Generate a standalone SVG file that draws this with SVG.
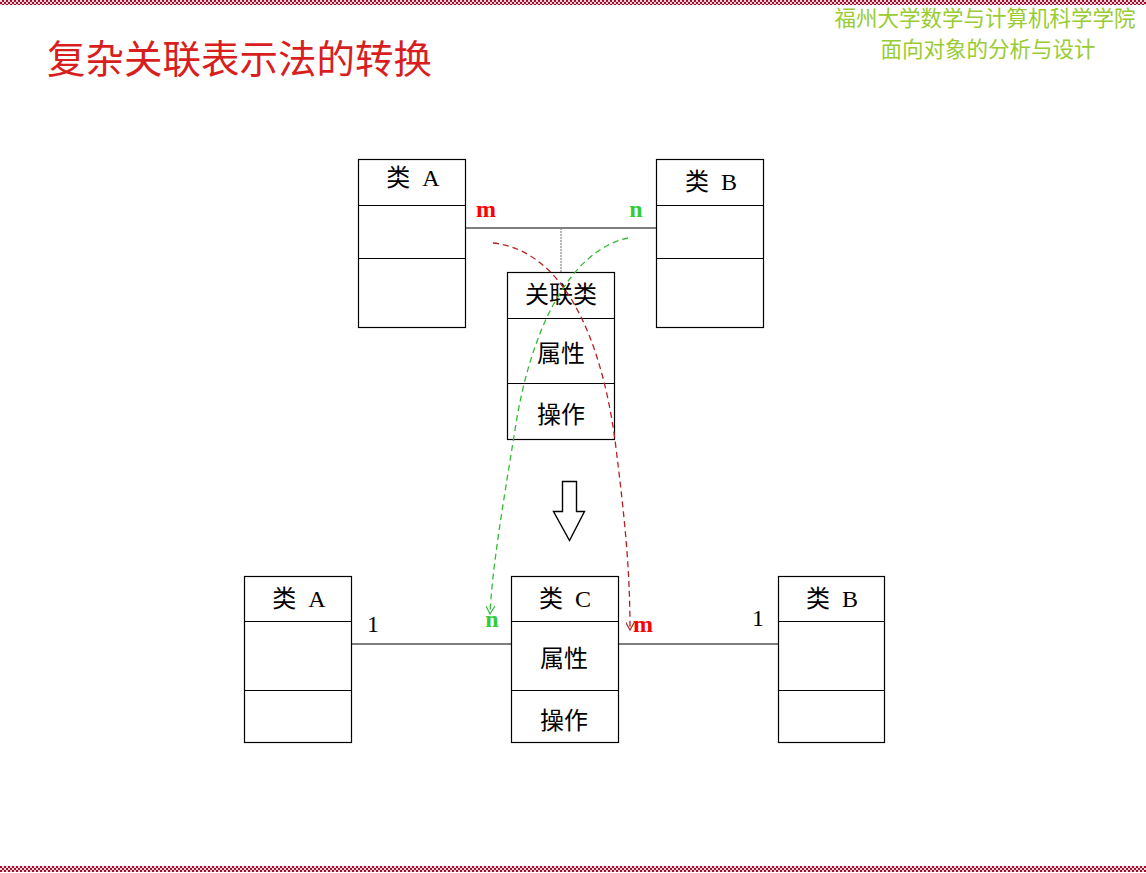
<svg xmlns="http://www.w3.org/2000/svg" width="1146" height="873" viewBox="0 0 1146 873">
<defs>
<pattern id="chk" x="0" y="0" width="4" height="4" patternUnits="userSpaceOnUse">
<rect width="4" height="4" fill="#a0102e"/>
<rect x="0" y="0" width="2" height="2" fill="#f2d6dc"/>
<rect x="2" y="2" width="2" height="2" fill="#f2d6dc"/>
</pattern>
<marker id="arrR" viewBox="0 0 10 10" refX="9" refY="5" markerWidth="9" markerHeight="9" orient="auto" markerUnits="userSpaceOnUse">
<path d="M0,0 L9,5 L0,10" fill="none" stroke="#b22222" stroke-width="1.3"/>
</marker>
<marker id="arrG" viewBox="0 0 10 10" refX="9" refY="5" markerWidth="9" markerHeight="9" orient="auto" markerUnits="userSpaceOnUse">
<path d="M0,0 L9,5 L0,10" fill="none" stroke="#33bb33" stroke-width="1.3"/>
</marker>
</defs>
<style>
.box{fill:#fff;stroke:#000;stroke-width:1.2}
.div{stroke:#000;stroke-width:1}
.cn{font-family:"Liberation Serif","Noto Sans CJK SC",serif;font-size:24px;fill:#000;text-anchor:middle}
.lbl{font-family:"Liberation Serif",serif;font-size:24px;font-weight:bold}
.line{stroke:#000;stroke-width:1.2;fill:none}
.hdr{font-family:"Noto Sans CJK SC",sans-serif;font-size:21.5px;fill:#99cc33;text-anchor:middle}
</style>
<rect width="1146" height="873" fill="#fff"/>
<rect x="0" y="0" width="1146" height="5" fill="url(#chk)"/>
<rect x="0" y="866" width="1146" height="6" fill="url(#chk)"/>

<text x="47" y="73" font-family="Liberation Serif,'Noto Sans CJK SC',serif" font-size="38.5" fill="#d81e1e">复杂关联表示法的转换</text>
<text class="hdr" x="985" y="26">福州大学数学与计算机科学学院</text>
<text class="hdr" x="988" y="57">面向对象的分析与设计</text>

<g id="connectors">
<line class="line" x1="465" y1="228" x2="656" y2="228"/>
<line x1="561" y1="228" x2="561" y2="272" stroke="#888" stroke-width="1.2" stroke-dasharray="2,1"/>
<line class="line" x1="351" y1="644" x2="511" y2="644"/>
<line class="line" x1="618" y1="644" x2="778" y2="644"/>
</g>

<g id="classA1">
<rect class="box" x="358.5" y="159.5" width="107" height="168"/>
<line class="div" x1="358" y1="205.5" x2="465" y2="205.5"/>
<line class="div" x1="358" y1="258.5" x2="465" y2="258.5"/>
<text class="cn" x="413" y="186" xml:space="preserve">类  A</text>
</g>
<g id="classB1">
<rect class="box" x="656.5" y="159.5" width="107" height="168"/>
<line class="div" x1="656" y1="205.5" x2="763" y2="205.5"/>
<line class="div" x1="656" y1="258.5" x2="763" y2="258.5"/>
<text class="cn" x="711" y="190" xml:space="preserve">类  B</text>
</g>
<g id="assocClass">
<rect class="box" x="507.5" y="272.5" width="107" height="167"/>
<line class="div" x1="507" y1="318.5" x2="614" y2="318.5"/>
<line class="div" x1="507" y1="383.5" x2="614" y2="383.5"/>
<text class="cn" x="561" y="303">关联类</text>
<text class="cn" x="561" y="362">属性</text>
<text class="cn" x="561" y="423">操作</text>
</g>
<text class="lbl" x="486" y="217" fill="#ff0000" text-anchor="middle">m</text>
<text class="lbl" x="636" y="217" fill="#33cc33" text-anchor="middle">n</text>

<g id="bigArrow">
<path d="M562.5,481.5 L576.5,481.5 L576.5,511.5 L584.5,511.5 L569.5,540.5 L553.5,511.5 L562.5,511.5 Z" fill="#fff" stroke="#000" stroke-width="1.4"/>
</g>

<g id="classA2">
<rect class="box" x="244.5" y="576.5" width="107" height="166"/>
<line class="div" x1="244" y1="621.5" x2="351" y2="621.5"/>
<line class="div" x1="244" y1="690.5" x2="351" y2="690.5"/>
<text class="cn" x="299" y="607" xml:space="preserve">类  A</text>
</g>
<g id="classC">
<rect class="box" x="511.5" y="576.5" width="107" height="166"/>
<line class="div" x1="511" y1="621.5" x2="618" y2="621.5"/>
<line class="div" x1="511" y1="690.5" x2="618" y2="690.5"/>
<text class="cn" x="565" y="607" xml:space="preserve">类  C</text>
<text class="cn" x="564" y="667">属性</text>
<text class="cn" x="564" y="729">操作</text>
</g>
<g id="classB2">
<rect class="box" x="778.5" y="576.5" width="106" height="166"/>
<line class="div" x1="778" y1="621.5" x2="884" y2="621.5"/>
<line class="div" x1="778" y1="690.5" x2="884" y2="690.5"/>
<text class="cn" x="832" y="607" xml:space="preserve">类  B</text>
</g>
<text x="373" y="632" font-family="Liberation Serif,serif" font-size="24" text-anchor="middle">1</text>
<text x="758" y="626" font-family="Liberation Serif,serif" font-size="24" text-anchor="middle">1</text>
<text class="lbl" x="492" y="627" fill="#33cc33" text-anchor="middle">n</text>
<text class="lbl" x="643" y="632" fill="#ff0000" text-anchor="middle">m</text>

<g id="mapping-connectors">
<path d="M493,243 C560,250 600,330 615,440 C625,520 630,570 630,630" fill="none" stroke="#b22222" stroke-width="1.3" stroke-dasharray="6,4" marker-end="url(#arrR)"/>
<path d="M628,238 C570,250 530,330 515,430 C502,510 492,570 490,614" fill="none" stroke="#33bb33" stroke-width="1.3" stroke-dasharray="6,4" marker-end="url(#arrG)"/>
</g>
</svg>
